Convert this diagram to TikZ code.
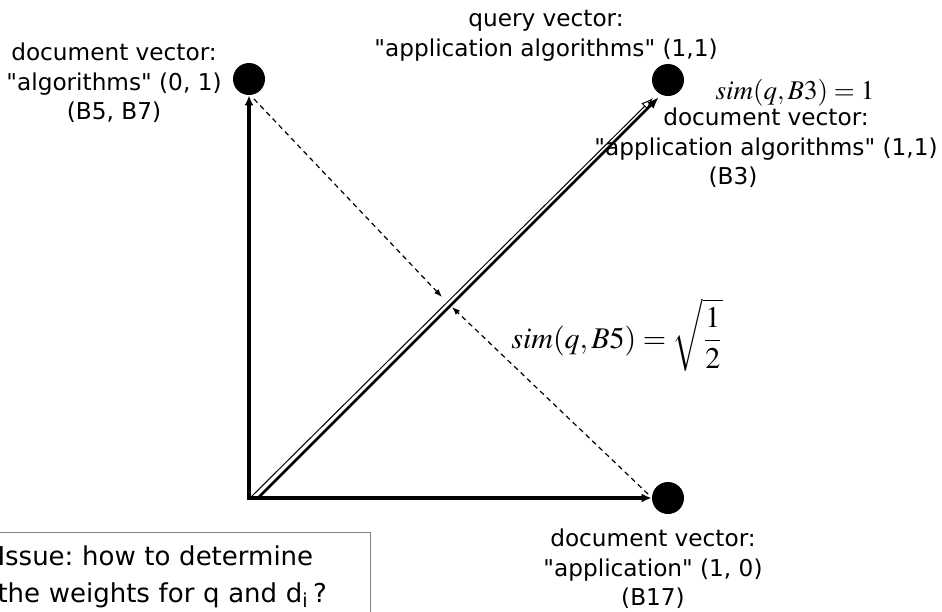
\documentclass[tikz,border=0pt]{standalone}
\usepackage{mathptmx}
\usepackage[no-math]{fontspec}
\setmainfont{DejaVu Sans}[Ligatures=TeXOff]
\usetikzlibrary{arrows.meta,calc}
\definecolor{cInk}{HTML}{000000}
\definecolor{cFrame}{HTML}{808080}
\tikzset{
  vdot/.style={circle,fill=cInk,minimum size=16pt,inner sep=0pt},
  axarr/.style={-{Latex[length=5pt,width=4.5pt]},line width=1.6pt,line cap=rect,color=cInk},
  qthin/.style={-{Latex[open,length=6pt,width=4.5pt]},line width=0.5pt,color=cInk},
  qthick/.style={-{Latex[length=6pt,width=4.5pt]},line width=1.3pt,color=cInk},
  proj/.style={-{Latex[length=4pt,width=3pt]},line width=0.6pt,dash pattern=on 2.5pt off 2pt,color=cInk},
  lbl/.style={font=\fontsize{11.6}{14.8}\selectfont,align=center,inner sep=0pt,text=cInk},
  eq/.style={font=\fontsize{#1}{16}\selectfont,inner sep=0pt,text=cInk},
  eq/.default=13.5,
  issuebox/.style={draw=cFrame,line width=0.5pt,text width=180.5pt,align=left,inner xsep=6pt,inner ysep=6.5pt,font=\fontsize{13}{18.5}\selectfont,anchor=north west},
}
\frenchspacing

\begin{document}
\begin{tikzpicture}[x=0.5pt,y=-0.5pt]
    \clip (0,0) rectangle (942,611);
    \coordinate (o) at (249,498);
    \node[vdot] (algo) at (249,79) {};
    \node[vdot] (both) at (668,80) {};
    \node[vdot] (appl) at (668,498) {};
    \coordinate (m1) at (442,297);
    \coordinate (m2) at (452,307);
    \draw[axarr] (o) -- (algo);
    \draw[axarr] (o) -- (appl);
    \draw[qthin] ($(o)+(2,-1)$) -- ($(both)+(-15,18)$);
    \draw[qthick] ($(o)+(9,0)$) -- ($(both)+(-9,17)$);
    \draw[proj] ($(algo)+(5,20)$) -- (m1);
    \draw[proj] ($(appl)+(-20,-4)$) -- (m2);
    \node[lbl] (algolbl) at (114,83) {document vector:\\"algorithms" (0, 1)\\(B5, B7)};
    \node[lbl] (qlbl) at (546,36) {query vector:\\"application algorithms" (1,1)};
    \node[lbl] (bothlbl) at (766,148) {document vector:\\"application algorithms" (1,1)\\(B3)\hspace*{33pt}};
    \node[lbl] (appllbl) at (653,569) {document vector:\\"application" (1, 0)\\(B17)};
    \node[eq] (simb3) at (795,93) {$sim(q,B3)=1$};
    \node[eq=15,anchor=west] (simb5) at (511,335) {$\displaystyle sim(q,B5)=\sqrt{\frac{1}{2}}$};
    \node[issuebox] (issue) at (-15,532) {Issue: how to determine\\the weights for q and d\textsubscript{i}\,?};
\end{tikzpicture}
\end{document}
